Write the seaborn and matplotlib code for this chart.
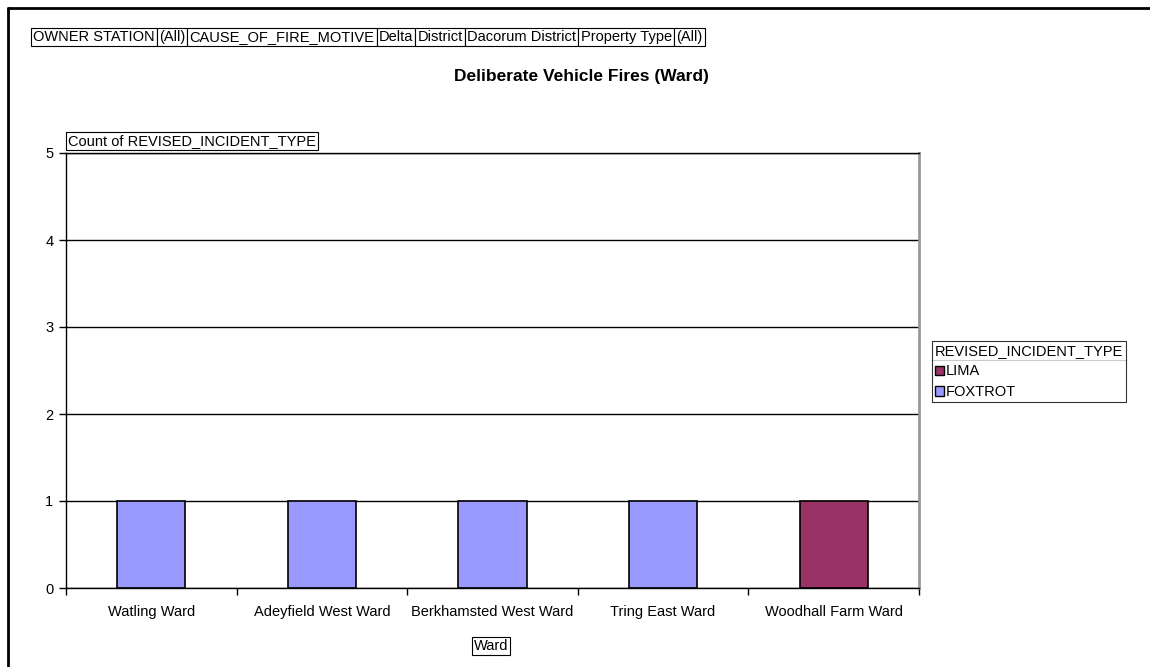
import numpy as np
import pandas as pd
import seaborn as sns
import matplotlib.pyplot as plt
from matplotlib.lines import Line2D
from matplotlib.patches import Patch

wards = ['Watling Ward', 'Adeyfield West Ward', 'Berkhamsted West Ward',
         'Tring East Ward', 'Woodhall Farm Ward']
incident_types = ['FOXTROT', 'FOXTROT', 'FOXTROT', 'FOXTROT', 'LIMA']
counts = [1, 1, 1, 1, 1]
type_order = ['LIMA', 'FOXTROT']
type_colors = {'LIMA': '#993366', 'FOXTROT': '#9999FF'}
filter_fields = ['OWNER STATION', '(All)', 'CAUSE_OF_FIRE_MOTIVE', 'Delta',
                 'District', 'Dacorum District', 'Property Type', '(All)']

sns.set_theme(style="white")
plt.rcParams['font.family'] = ['Liberation Sans', 'DejaVu Sans']
plt.rcParams['text.color'] = 'black'

W, H, DPI = 1150, 667, 100
FS = 10.5
fig = plt.figure(figsize=(W / DPI, H / DPI), dpi=DPI)
fig.patch.set_facecolor('white')

# plot area in pixel coords: x 66..919, y 153..588
ax = fig.add_axes([66 / W, 1 - 588 / H, (919 - 66) / W, (588 - 153) / H])

df = pd.DataFrame({'Ward': wards, 'Type': incident_types, 'Count': counts})
sns.barplot(data=df, x='Ward', y='Count', hue='Type', hue_order=type_order,
            palette=type_colors, dodge=False, width=0.4, order=wards, saturation=1,
            edgecolor='black', linewidth=1.2, ax=ax, legend=False)

ax.set_xlim(-0.5, len(wards) - 0.5)
ax.set_ylim(0, 5)
ax.set_yticks(range(6))
ax.set_xticks(np.arange(-0.5, len(wards), 1.0), minor=True)
ax.tick_params(axis='x', which='major', length=0, pad=12, labelsize=FS, colors='black')
ax.tick_params(axis='x', which='minor', length=5, width=1, color='black', direction='out', bottom=True)
ax.tick_params(axis='y', length=5, width=1, color='black', direction='out', left=True,
               labelsize=FS, pad=4)
for lbl in ax.get_xticklabels() + ax.get_yticklabels():
    lbl.set_color('black')
ax.set_xlabel('')
ax.set_ylabel('')
ax.yaxis.grid(True, color='black', linewidth=1)
ax.set_axisbelow(True)
for side in ['left', 'bottom', 'top']:
    ax.spines[side].set_color('black')
    ax.spines[side].set_linewidth(1)
ax.spines['right'].set_color('#999999')
ax.spines['right'].set_linewidth(2)

# outer chart frame
fig.add_artist(Line2D([8 / W, 1], [1 - 8 / H, 1 - 8 / H], color='black', lw=2))
fig.add_artist(Line2D([8 / W, 8 / W], [0, 1 - 8 / H], color='black', lw=2))

box = dict(boxstyle='square,pad=0.15', facecolor='white', edgecolor='black', linewidth=0.8)

fig.text(581 / W, 1 - 77 / H, 'Deliberate Vehicle Fires (Ward)', ha='center', va='center',
         fontsize=12.5, fontweight='bold', color='black')
fig.text(68 / W, 1 - 141 / H, 'Count of REVISED_INCIDENT_TYPE', ha='left', va='center',
         fontsize=FS, bbox=box, color='black')
fig.text(491 / W, 1 - 646 / H, 'Ward', ha='center', va='center', fontsize=FS, bbox=box,
         color='black')

# filter buttons row
fig.canvas.draw()
renderer = fig.canvas.get_renderer()
pad_px = 0.15 * FS * DPI / 72
x = 33
for field in filter_fields:
    t = fig.text(x / W, 1 - 37 / H, field, ha='left', va='center', fontsize=FS, bbox=box,
                 color='black')
    fig.canvas.draw()
    ext = t.get_bbox_patch().get_window_extent(renderer)
    x = ext.x1 + pad_px

# legend
handles = [Patch(facecolor=type_colors[k], edgecolor='black', linewidth=1) for k in type_order]
leg = fig.legend(handles, type_order, title='REVISED_INCIDENT_TYPE', loc='upper left',
                 bbox_to_anchor=(932 / W, 1 - 341 / H), frameon=True, fancybox=False,
                 edgecolor='black', fontsize=FS, title_fontsize=FS, handlelength=0.6,
                 handleheight=0.6, handletextpad=0.15, borderpad=0.2, labelspacing=0.45,
                 alignment='left', borderaxespad=0, labelcolor='black')
leg.get_title().set_color('black')
leg.get_frame().set_linewidth(0.8)
fig.canvas.draw()
title_ext = leg.get_title().get_window_extent(renderer)
frame_ext = leg.get_frame().get_window_extent(renderer)
ysep = title_ext.y0 - 2
fig.add_artist(Line2D([frame_ext.x0 / W, frame_ext.x1 / W], [ysep / H, ysep / H],
                      color='black', lw=0.8))

fig.savefig('out.png', dpi=DPI)
